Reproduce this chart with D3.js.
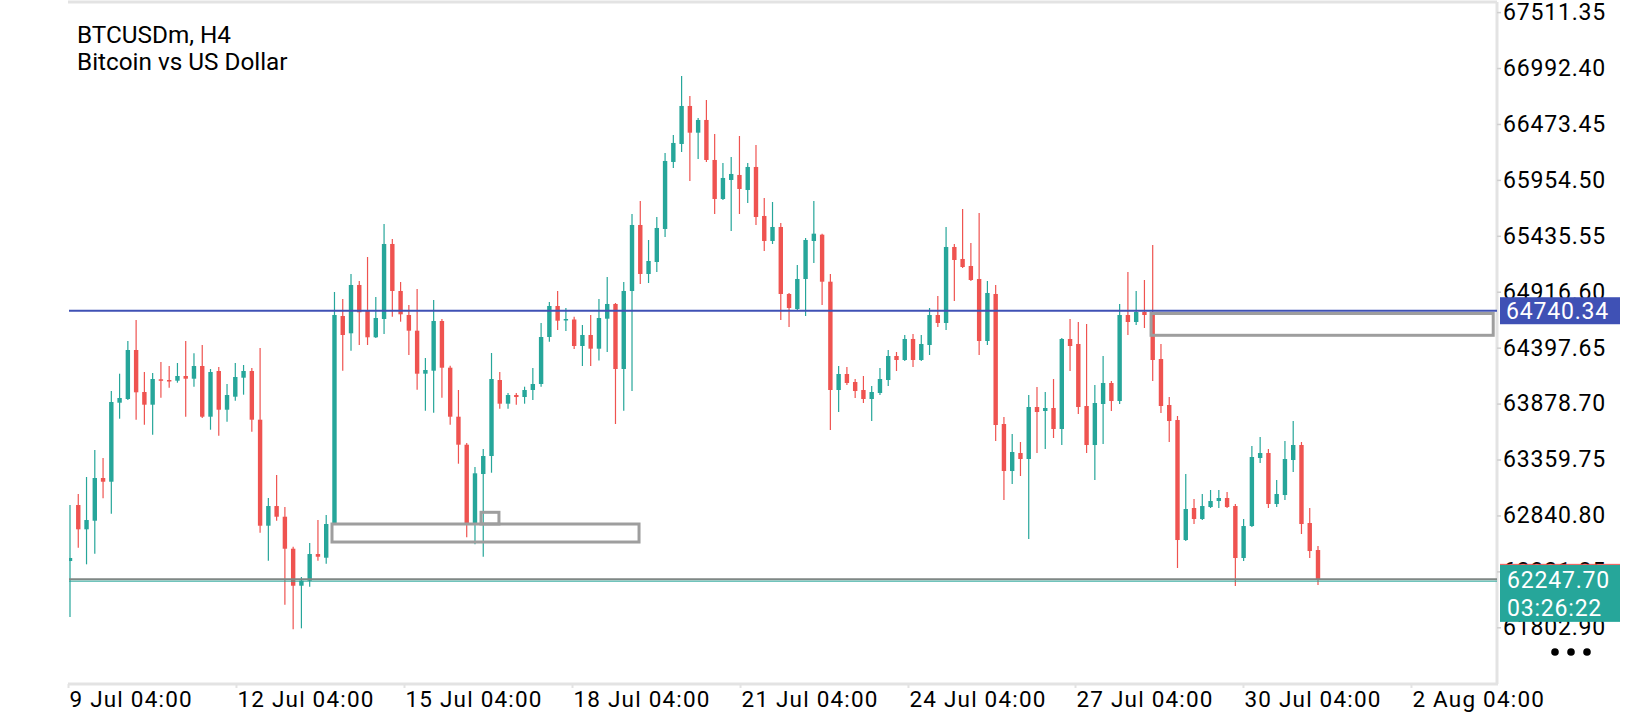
<!DOCTYPE html>
<html>
<head>
<meta charset="utf-8">
<script src="https://cdn.jsdelivr.net/npm/d3@7"></script>
<style>
body { margin: 0; background: #fff; }
svg { display: block; font-family: Roboto, "Noto Sans", sans-serif; }
</style>
</head>
<body>
<svg id="chart" width="1640" height="720"></svg>
<script>
// BTCUSDm H4 candles (oldest first)
const openP = [
  62418, 62937.6, 62712.1, 62791.9, 63188.2, 63153.8, 63886.9, 63921.3, 64376, 63986.2,
  63868.4, 64104.1, 64097.6, 64091.1, 64134.7, 64109.7, 64227.5, 63757, 64181.1, 63822,
  63942.6, 64119, 64181.1, 63729.2, 62745.5, 62928.3, 62829, 62532.1, 62188.7, 62235.1,
  62482.9, 62448.5, 62761.3, 64691.5, 64531, 64979.2, 64737.9, 64493.9, 64663.7, 65359.7,
  64923.5, 64700.8, 64555.1, 64156.1, 64183.9, 64645.1, 64211.7, 63757, 63497.2, 62767.8,
  63225.3, 63392.3, 64097.6, 63877.7, 63958.4, 63939.8, 64004.8, 64060.5, 64496.6, 64784.3,
  64651.6, 64659, 64413.1, 64515.2, 64388.1, 64666.5, 64802.9, 64199.7, 64923.5, 65536,
  65081.3, 65192.6, 65498.9, 66120.6, 66287.7, 66640.3, 66392.5, 66510.4, 66139.2, 65777.3,
  65953.6, 66000, 65860.8, 66074.2, 65619.5, 65387.5, 65517.4, 64895.7, 64756.5, 65034.9,
  65387.5, 65446, 65009.8, 64004.8, 64153.3, 64079, 64004.8, 63921.3, 63977, 64097.6,
  64320.3, 64283.2, 64478.1, 64283.2, 64422.4, 64700.8, 64626.6, 65331.8, 65220.5, 65155.5,
  65034.9, 64459.5, 64895.7, 63689.3, 63253.1, 63420.2, 63364.5, 63847, 63809.9, 63837.8,
  63642.9, 64478.1, 64431.7, 63856.3, 63494.4, 63874.9, 64069.8, 63902.7, 64700.8, 64635.8,
  64728.6, 64710.1, 64292.5, 63865.6, 63726.4, 62612.8, 62909.8, 62807.7, 62919, 62974.7,
  63002.6, 62928.3, 62445.8, 62742.7, 63373.8, 63420.2, 62946.9, 63030.4, 63355.2, 63494.4,
  62770.6, 62520
];
const highP = [
  62938, 63039.7, 63197.4, 63448, 63373.8, 63995.5, 64156.1, 64459.5, 64654.4, 64171.8,
  64162.6, 64264.6, 64227.5, 64255.4, 64459.5, 64345.4, 64422.4, 64199.7, 64218.2, 64060.5,
  64255.4, 64236.8, 64209, 64394.6, 63002.6, 63216, 62919, 62550.6, 62269.4, 62585,
  62798.4, 62844.8, 64914.2, 64849.3, 65081.3, 65016.3, 65239, 64867.8, 65545.3, 65406.1,
  65007, 64793.6, 64942.1, 64301.8, 64840, 64663.7, 64230.3, 64004.8, 63513, 63290.2,
  63457.3, 64348.2, 64171.8, 63977, 63977, 64035.4, 64209, 64626.6, 64821.4, 64923.5,
  64765.8, 64685.1, 64608, 64700.8, 64849.3, 65053.4, 64812.2, 65007, 65638.1, 65758.7,
  65396.8, 65610.2, 66204.2, 66371.2, 66918.7, 66733.1, 66529, 66696, 66380.5, 66111.4,
  66167, 66361.9, 66111.4, 66278.4, 65786.6, 65749.4, 65554.6, 64905, 65164.8, 65415.4,
  65758.7, 65455.3, 65081.3, 64227.5, 64218.2, 64106.9, 64134.7, 64041.9, 64209, 64376,
  64357.4, 64515.2, 64524.5, 64515.2, 64765.8, 64877.1, 65517.4, 65359.7, 65684.5, 65369,
  65647.4, 65016.3, 64979.2, 63754.2, 63596.5, 63522.2, 63958.4, 64032.6, 63986.2, 64106.9,
  64487.4, 64663.7, 64635.8, 64617.3, 64051.2, 64320.3, 64088.3, 64802.9, 65099.8, 64923.5,
  65025.6, 65350.4, 64431.7, 63939.8, 63763.5, 63225.3, 62993.3, 63039.7, 63076.8, 63076.8,
  63058.2, 62946.9, 62807.7, 63485.1, 63568.6, 63457.3, 63169.6, 63531.5, 63717.1, 63522.2,
  62909.8, 62557.1
];
const lowP = [
  61898, 62541.3, 62387.3, 62485.7, 62999.8, 62856.9, 63738.5, 63912, 63729.2, 63682.8,
  63590, 63933.3, 64026.1, 64072.5, 63757, 64035.4, 63745, 63636.4, 63580.7, 63710.6,
  63905.5, 63961.2, 63617.8, 62680.5, 62420.7, 62791.9, 62012.4, 61784.1, 61793.4, 62179.4,
  62420.7, 62392.9, 62752, 64183.9, 64369.5, 64422.4, 64422.4, 64487.4, 64524.5, 64685.1,
  64638.6, 64329.6, 64007.6, 63812.7, 63794.1, 63933.3, 63682.8, 63320.9, 62637.9, 62572.9,
  62457.8, 63237.3, 63831.3, 63831.3, 63868.4, 63877.7, 63912, 64035.4, 64453.1, 64561.6,
  64552.3, 64385.3, 64227.5, 64227.5, 64278.6, 64357.4, 63689.3, 63812.7, 63995.5, 64988.5,
  64997.8, 65099.8, 65424.6, 66065, 66213.4, 65944.3, 66148.5, 66120.6, 65638.1, 65768,
  65480.3, 65638.1, 65740.2, 65536, 65294.7, 65359.7, 64654.4, 64589.4, 64742.6, 64691.5,
  65183.4, 64793.6, 63633.6, 63800.6, 64051.2, 63930.6, 63884.2, 63717.1, 63958.4, 64041.9,
  64181.1, 64273.9, 64218.2, 64273.9, 64329.6, 64589.4, 64561.6, 64830.7, 65137, 65016.3,
  64329.6, 64422.4, 63531.5, 62984, 63132.5, 63206.7, 62622.1, 63420.2, 63457.3, 63559.4,
  63494.4, 64181.1, 63782.1, 63420.2, 63169.6, 63503.7, 63809.9, 63874.9, 64515.2, 64608,
  64580.2, 64088.3, 63791.4, 63522.2, 62353, 62603.5, 62761.3, 62798.4, 62909.8, 62909.8,
  62909.8, 62185.9, 62417.9, 62733.4, 63327.4, 62909.8, 62919, 62984, 63243.8, 62668.5,
  62445.8, 62195.2
];
const closeP = [
  62446, 62712.1, 62798.4, 63188.2, 63153.8, 63893.4, 63930.6, 64376, 63983.5, 63868.4,
  64106.9, 64091.1, 64089, 64134.7, 64109.7, 64227.5, 63757, 64171.8, 63822, 63958.4,
  64125.4, 64181.1, 63729.2, 62745.5, 62928.3, 62829, 62532.1, 62188.7, 62235.1, 62482.9,
  62457.8, 62761.3, 64700.8, 64515.2, 64979.2, 64725.9, 64493.9, 64673, 65359.7, 64923.5,
  64707.3, 64555.1, 64156.1, 64190.4, 64645.1, 64211.7, 63757, 63497.2, 62767.8, 63231.8,
  63392.3, 64106.9, 63877.7, 63958.4, 63939.8, 64004.8, 64060.5, 64496.6, 64784.3, 64647.9,
  64663.7, 64413.1, 64515.2, 64388.1, 64673, 64802.9, 64199.7, 64923.5, 65536, 65081.3,
  65201.9, 65508.2, 66129.9, 66297, 66640.3, 66392.5, 66510.4, 66139.2, 65777.3, 65972.2,
  66009.3, 65870.1, 66074.2, 65610.2, 65387.5, 65517.4, 64895.7, 64765.8, 65034.9, 65396.8,
  65455.3, 65009.8, 64004.8, 64153.3, 64069.8, 63995.5, 63921.3, 63986.2, 64106.9, 64320.3,
  64283.2, 64478.1, 64283.2, 64431.7, 64700.8, 64626.6, 65331.8, 65211.2, 65146.2, 65025.6,
  64459.5, 64905, 63680, 63253.1, 63429.4, 63364.5, 63847, 63800.6, 63837.8, 63642.9,
  64478.1, 64413.1, 63847, 63494.4, 63884.2, 64069.8, 63902.7, 64700.8, 64635.8, 64728.6,
  64700.8, 64283.2, 63856.3, 63717.1, 62612.8, 62900.5, 62807.7, 62928.3, 62974.7, 63002.6,
  62919, 62445.8, 62742.7, 63383, 63420.2, 62946.9, 63039.7, 63364.5, 63494.4, 62761.3,
  62510.7, 62247.70
];

const priceTicks = [67511.35, 66992.40, 66473.45, 65954.50, 65435.55, 64916.60,
                    64397.65, 63878.70, 63359.75, 62840.80, 62321.85, 61802.90];
const timeLabels = ["9 Jul 04:00", "12 Jul 04:00", "15 Jul 04:00", "18 Jul 04:00", "21 Jul 04:00",
                    "24 Jul 04:00", "27 Jul 04:00", "30 Jul 04:00", "2 Aug 04:00"];
const timeTickBars = [-0.24, 20.08, 40.41, 60.74, 81.07, 101.39, 121.6, 141.92, 162.25];

// horizontal lines and boxes drawn on the chart
const levelPrice = 64740.34;
const bidPrice = 62247.70;
const bidTimer = "03:26:22";
const zoneFrom = [31.7, 49.73, 130.8];
const zoneTo = [68.85, 51.9, 172.2];
const zoneHigh = [62761.3, 62869.9, 64714.7];
const zoneLow = [62594.2, 62761.3, 64512.4];

const plotL = 69, plotR = 1497, plotT = 2, plotB = 684;
const up = "#26a69a", down = "#ef5350", frameColor = "#e3e3e3";
const axisFont = "23px", axisSpacing = "0.8px";

const candles = openP.map((o, i) => ({ i, o, h: highP[i], l: lowP[i], c: closeP[i] }));

const x = d3.scaleLinear().domain([0, 151]).range([70, 1318]);
const y = d3.scaleLinear().domain([61802.90, 67511.35]).range([627.3, 12.1]);

const svg = d3.select("#chart");

svg.append("defs").append("clipPath").attr("id", "plot")
  .append("rect").attr("x", plotL).attr("y", plotT).attr("width", plotR - plotL).attr("height", plotB - plotT);

// frame
svg.append("line").attr("x1", plotL - 1).attr("x2", plotR).attr("y1", plotT).attr("y2", plotT)
  .attr("stroke", frameColor).attr("stroke-width", 3);
svg.append("line").attr("x1", plotR).attr("x2", plotR).attr("y1", plotT).attr("y2", plotB)
  .attr("stroke", frameColor).attr("stroke-width", 3);

const plot = svg.append("g").attr("clip-path", "url(#plot)");

// candles
const cg = plot.selectAll("g.candle").data(candles).enter().append("g")
  .attr("fill", d => d.c >= d.o ? up : down)
  .attr("stroke", d => d.c >= d.o ? up : down);

cg.append("line")
  .attr("x1", d => x(d.i)).attr("x2", d => x(d.i))
  .attr("y1", d => y(d.h)).attr("y2", d => y(d.l))
  .attr("stroke-width", 1.2);

cg.append("rect")
  .attr("x", d => x(d.i) - 2.2)
  .attr("width", 4.4)
  .attr("y", d => y(Math.max(d.o, d.c)))
  .attr("height", d => Math.max(1.5, Math.abs(y(d.o) - y(d.c))))
  .attr("stroke", "none");

// zones
plot.selectAll("rect.zone").data(zoneFrom).enter().append("rect")
  .attr("x", (d, i) => x(d))
  .attr("width", (d, i) => x(zoneTo[i]) - x(d))
  .attr("y", (d, i) => y(zoneHigh[i]))
  .attr("height", (d, i) => y(zoneLow[i]) - y(zoneHigh[i]))
  .attr("fill", "none").attr("stroke", "#9e9e9e").attr("stroke-width", 3);

// level line and bid line
plot.append("line").attr("x1", plotL).attr("x2", plotR)
  .attr("y1", y(levelPrice)).attr("y2", y(levelPrice))
  .attr("stroke", "#3f51b5").attr("stroke-width", 2);
plot.append("line").attr("x1", plotL).attr("x2", plotR)
  .attr("y1", y(bidPrice)).attr("y2", y(bidPrice))
  .attr("stroke", "#7f8785").attr("stroke-width", 2);
plot.append("line").attr("x1", plotL).attr("x2", plotR)
  .attr("y1", y(bidPrice) + 1.8).attr("y2", y(bidPrice) + 1.8)
  .attr("stroke", up).attr("stroke-width", 1);

// price axis
const yAxis = d3.axisRight(y).tickValues(priceTicks).tickFormat(d3.format(".2f"))
  .tickSize(4).tickPadding(2);
const ya = svg.append("g").attr("transform", `translate(${plotR},0)`).call(yAxis);
ya.select(".domain").remove();
ya.selectAll(".tick line").attr("stroke", "#cfcfcf").attr("stroke-width", 1.5);
ya.selectAll(".tick text").attr("fill", "#000").style("font-size", axisFont)
  .style("letter-spacing", axisSpacing).style("font-family", "Roboto, sans-serif");

// time axis
const xAxis = d3.axisBottom(x).tickValues(timeTickBars).tickFormat((d, i) => timeLabels[i])
  .tickSize(4).tickPadding(3);
const xa = svg.append("g").attr("transform", `translate(0,${plotB})`).call(xAxis);
xa.select(".domain").attr("d", `M${plotL - 1},0H${plotR + 1}`).attr("stroke", frameColor).attr("stroke-width", 3);
xa.selectAll(".tick line").attr("stroke", frameColor).attr("stroke-width", 2);
xa.selectAll(".tick text").attr("fill", "#000").attr("text-anchor", "start").attr("dx", 1)
  .style("font-size", "22.5px").style("letter-spacing", "1.2px")
  .style("font-family", "Roboto, sans-serif");

// level label
const ly = y(levelPrice);
svg.append("rect").attr("x", plotR + 3).attr("y", ly - 13.5).attr("width", 120).attr("height", 27)
  .attr("fill", "#3f51b5");
svg.append("text").attr("x", plotR + 9).attr("y", ly).attr("dy", "0.36em")
  .attr("fill", "#fff").style("font-size", axisFont).style("letter-spacing", axisSpacing)
  .text(levelPrice.toFixed(2));

// bid label with countdown
const by = y(bidPrice);
svg.append("rect").attr("x", plotR + 3).attr("y", by - 14.5).attr("width", 120).attr("height", 57)
  .attr("fill", up);
svg.append("line").attr("x1", plotR + 3).attr("x2", plotR + 123).attr("y1", by - 15).attr("y2", by - 15)
  .attr("stroke", down).attr("stroke-width", 1);
svg.append("text").attr("x", plotR + 10).attr("y", by).attr("dy", "0.36em")
  .attr("fill", "#fff").style("font-size", axisFont).style("letter-spacing", axisSpacing)
  .text(bidPrice.toFixed(2));
svg.append("text").attr("x", plotR + 10).attr("y", by + 28).attr("dy", "0.36em")
  .attr("fill", "#fff").style("font-size", axisFont).style("letter-spacing", axisSpacing)
  .text(bidTimer);

// menu dots
svg.selectAll("circle.dot").data([0, 1, 2]).enter().append("circle")
  .attr("cx", d => 1555 + d * 16).attr("cy", 652).attr("r", 3.8).attr("fill", "#000");

// title
svg.append("text").attr("x", 77).attr("y", 43).attr("fill", "#000")
  .style("font-size", "24.3px").text("BTCUSDm, H4");
svg.append("text").attr("x", 77).attr("y", 70).attr("fill", "#000")
  .style("font-size", "24.3px").text("Bitcoin vs US Dollar");
</script>
</body>
</html>
